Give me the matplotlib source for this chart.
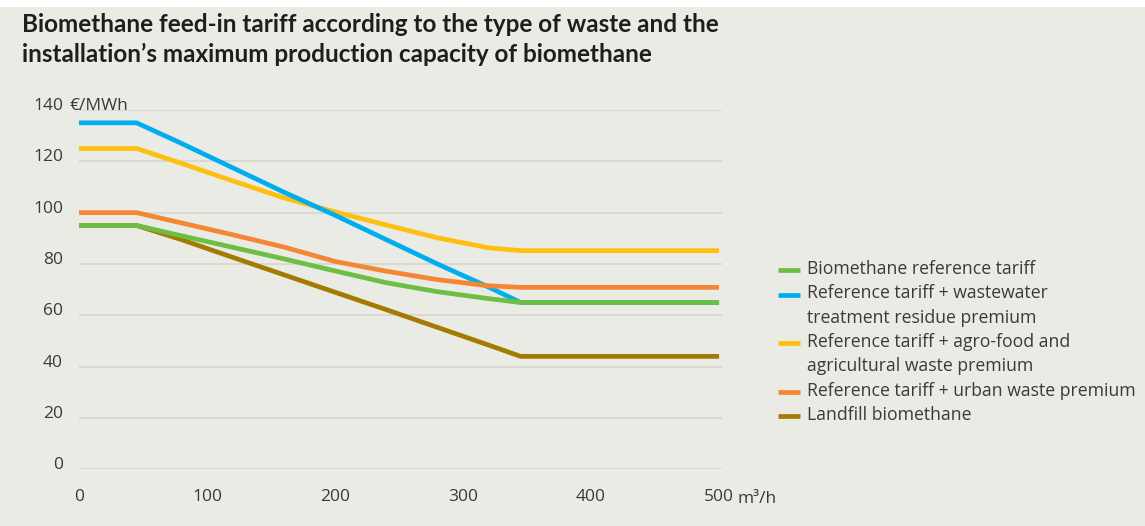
import matplotlib
matplotlib.use("Agg")
import matplotlib.pyplot as plt
from matplotlib.lines import Line2D
from matplotlib.patches import Rectangle

# Installation's maximum biomethane production capacity (m³/h)
capacity = [0, 45, 80, 120, 160, 200, 240, 280, 320, 345, 500]

# Feed-in tariffs (€/MWh)
reference_tariff = [95, 95, 91, 86.5, 82, 77.3, 72.7, 69.2, 66.5, 65, 65]
wastewater_premium = [135, 135, 127, 117.5, 108, 99, 89.5, 80, 71, 65, 65]
agrofood_premium = [125, 125, 119.2, 112.4, 105.8, 100.3, 95.2, 90.2, 86.3, 85.2, 85.2]
urban_premium = [100, 100, 96, 91.4, 86.6, 81, 77.2, 73.9, 71.5, 70.9, 70.9]
landfill = [95, 95, 89.5, 82.6, 75.8, 69, 62.2, 55.3, 48.4, 44, 44]

series_labels = [
    "Biomethane reference tariff",
    "Reference tariff + wastewater\ntreatment residue premium",
    "Reference tariff + agro-food and\nagricultural waste premium",
    "Reference tariff + urban waste premium",
    "Landfill biomethane",
]
series_values = [reference_tariff, wastewater_premium, agrofood_premium,
                 urban_premium, landfill]
series_colors = ["#6dbe45", "#00aeef", "#fdc010", "#f58634", "#a27b00"]
series_z = [6, 4, 3, 5, 2]

y_ticks = [0, 20, 40, 60, 80, 100, 120, 140]
x_ticks = [0, 100, 200, 300, 400, 500]

title_lines = [
    "Biomethane feed-in tariff according to the type of waste and the",
    "installation\u2019s maximum production capacity of biomethane",
]

BG = "#ebebe5"
GRID = "#d6d6cc"
TEXT = "#3a3a3a"
W, H = 1145, 526

plt.rcParams["font.family"] = ["Open Sans", "DejaVu Sans"]

fig = plt.figure(figsize=(W / 100, H / 100), dpi=100, facecolor=BG)
fig.patches.append(Rectangle((0, 1 - 7 / H), 1, 7 / H, transform=fig.transFigure,
                             facecolor="white", edgecolor="none", zorder=0))

# title
for i, line in enumerate(title_lines):
    fig.text(22 / W, 1 - (32 + 29.5 * i) / H, line, ha="left", va="baseline",
             fontsize=17.5, fontweight="bold", color="#1f1d1e",
             family=["Lato", "DejaVu Sans"])

ax_left, ax_right, ax_top, ax_bottom = 79, 722, 110, 469.3
ax = fig.add_axes([ax_left / W, 1 - ax_bottom / H,
                   (ax_right - ax_left) / W, (ax_bottom - ax_top) / H])
ax.set_facecolor("none")
ax.set_xlim(0, 502.3)
ax.set_ylim(0, 140)
for s in ax.spines.values():
    s.set_visible(False)

ax.set_yticks(y_ticks)
ax.set_xticks(x_ticks)
ax.grid(axis="y", color=GRID, lw=1.2)
ax.grid(axis="x", visible=False)
ax.set_axisbelow(True)
ax.tick_params(axis="both", length=0, labelsize=12.5, colors=TEXT)
ax.tick_params(axis="y", pad=11.5)
ax.tick_params(axis="x", pad=14)
for lbl in ax.get_yticklabels():
    lbl.set_verticalalignment("baseline")

ax.annotate("\u20ac/MWh", xy=(0, 140), xycoords="data", xytext=(-6.5, 0),
            textcoords="offset points", ha="left", va="baseline",
            fontsize=12.5, color=TEXT, annotation_clip=False)
ax.annotate("m\u00b3/h", xy=(500, 0), xycoords="data", xytext=(13, -24),
            textcoords="offset points", ha="left", va="baseline",
            fontsize=12.5, color=TEXT, annotation_clip=False)

for vals, col, z in zip(series_values, series_colors, series_z):
    ax.plot(capacity, vals, color=col, lw=3.4, solid_capstyle="butt",
            solid_joinstyle="round", zorder=z, clip_on=False)

# legend
row = 0
pitch = 24.3
first_base = 274
for label, col in zip(series_labels, series_colors):
    base = first_base + pitch * row
    fig.add_artist(Line2D([778 / W, 800 / W], [1 - (base - 3.7) / H] * 2,
                          transform=fig.transFigure, color=col, lw=3.4,
                          solid_capstyle="butt"))
    for j, part in enumerate(label.split("\n")):
        fig.text(807 / W, 1 - (base + pitch * j) / H, part, ha="left",
                 va="baseline", fontsize=12.7, color=TEXT)
    row += len(label.split("\n"))

fig.savefig("out.png", dpi=100, facecolor=fig.get_facecolor())
